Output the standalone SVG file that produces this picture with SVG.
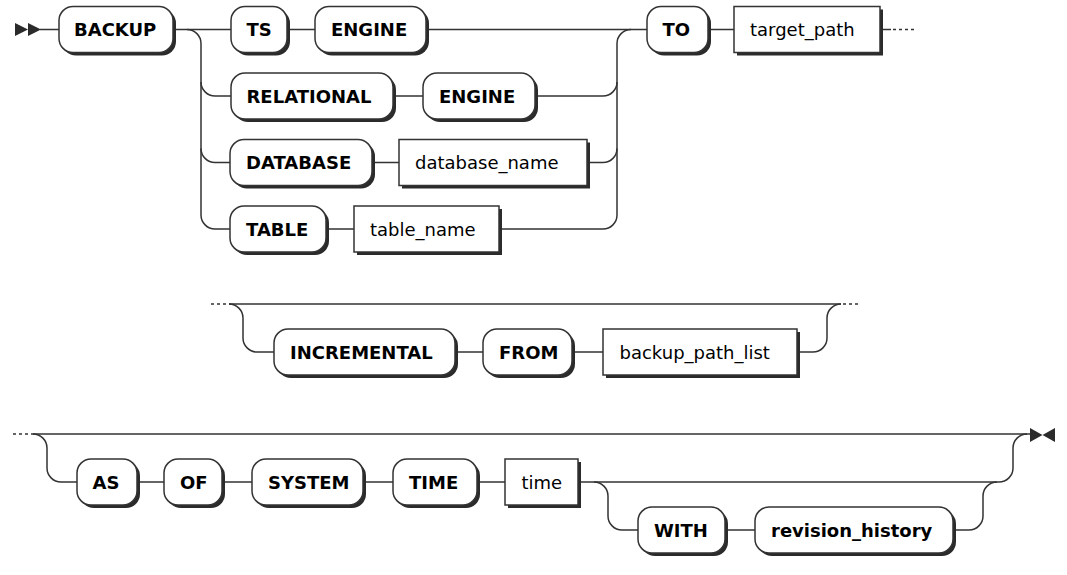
<svg xmlns="http://www.w3.org/2000/svg" width="1067" height="575" viewBox="0 0 1067 575">
<style>
.bg{fill:#ffffff}
.sh{fill:#2b2b2b}
.t{fill:#ffffff;stroke:#333333;stroke-width:1.5}
.n{fill:#ffffff;stroke:#333333;stroke-width:1.5}
.tt{font-family:"DejaVu Sans",Verdana,sans-serif;font-size:18px;font-weight:bold;fill:#000000}
.nt{font-family:"DejaVu Sans",Verdana,sans-serif;font-size:18px;font-weight:normal;fill:#000000}
.c{fill:none;stroke:#333333;stroke-width:1.5}
.d{fill:none;stroke:#333333;stroke-width:1.5;stroke-dasharray:3 3}
.m{fill:#2b2b2b}
</style>
<rect class="bg" x="0" y="0" width="1067" height="575"/>
<g id="connectors">
<polygon class="m" points="15,23 28,29.5 15,36"/>
<polygon class="m" points="28,23 41,29.5 28,36"/>
<path class="c" d="M40 29.5H59M173 29.5H231M287 29.5H315M426 29.5H647M708 29.5H734M880 29.5H891"/>
<path class="d" d="M893 29.5H914"/>
<path class="c" d="M187 29.5A14 14 0 0 1 201 43.5V215A14 14 0 0 0 215 229H230"/>
<path class="c" d="M201 82A14 14 0 0 0 215 96H231"/>
<path class="c" d="M201 148.5A14 14 0 0 0 215 162.5H230"/>
<path class="c" d="M393 96H423M535 96H603A14 14 0 0 0 617 82"/>
<path class="c" d="M372 162.5H399M587 162.5H603A14 14 0 0 0 617 148.5"/>
<path class="c" d="M326 229H354M499 229H603A14 14 0 0 0 617 215V43.5A14 14 0 0 1 631 29.5"/>
<path class="d" d="M211 304H228"/>
<path class="c" d="M229 304H841"/>
<path class="d" d="M843 304H861"/>
<path class="c" d="M229 304A14 14 0 0 1 243 318V338A14 14 0 0 0 257 352H274M455 352H483M572 352H603M797 352H813A14 14 0 0 0 827 338V318A14 14 0 0 1 841 304"/>
<path class="d" d="M13 434H30"/>
<path class="c" d="M31 434H1031"/>
<path class="c" d="M33 434A14 14 0 0 1 47 448V468A14 14 0 0 0 61 482H77M137 482H164M222 482H252M363 482H393M477 482H505M578 482H999A14 14 0 0 0 1013 468V448A14 14 0 0 1 1027 434"/>
<path class="c" d="M594 482A14 14 0 0 1 608 496V516A14 14 0 0 0 622 530H638M725 530H755M953 530H969A14 14 0 0 0 983 516V496A14 14 0 0 1 997 482"/>
<polygon class="m" points="1030,428 1042.5,435 1030,442"/>
<polygon class="m" points="1055,428 1042.5,435 1055,442"/>
</g>
<g id="n-backup"><rect class="sh" x="62" y="9.5" width="114" height="46" rx="14"/><rect class="t" x="59" y="6.5" width="114" height="46" rx="14"/><text class="tt" x="74" y="36">BACKUP</text></g>
<g id="n-ts"><rect class="sh" x="234" y="9.5" width="56" height="46" rx="14"/><rect class="t" x="231" y="6.5" width="56" height="46" rx="14"/><text class="tt" x="246.5" y="36">TS</text></g>
<g id="n-engine1"><rect class="sh" x="318" y="9.5" width="111" height="46" rx="14"/><rect class="t" x="315" y="6.5" width="111" height="46" rx="14"/><text class="tt" x="331" y="36">ENGINE</text></g>
<g id="n-to"><rect class="sh" x="650" y="9.5" width="61" height="46" rx="14"/><rect class="t" x="647" y="6.5" width="61" height="46" rx="14"/><text class="tt" x="662.5" y="36">TO</text></g>
<g id="n-target_path"><rect class="sh" x="737" y="9.5" width="146" height="46"/><rect class="n" x="734" y="6.5" width="146" height="46"/><text class="nt" x="750" y="36">target_path</text></g>
<g id="n-relational"><rect class="sh" x="234" y="76" width="162" height="46" rx="14"/><rect class="t" x="231" y="73" width="162" height="46" rx="14"/><text class="tt" x="246.5" y="102.5">RELATIONAL</text></g>
<g id="n-engine2"><rect class="sh" x="426" y="76" width="112" height="46" rx="14"/><rect class="t" x="423" y="73" width="112" height="46" rx="14"/><text class="tt" x="439" y="102.5">ENGINE</text></g>
<g id="n-database"><rect class="sh" x="233" y="142.5" width="142" height="46" rx="14"/><rect class="t" x="230" y="139.5" width="142" height="46" rx="14"/><text class="tt" x="246" y="169">DATABASE</text></g>
<g id="n-database_name"><rect class="sh" x="402" y="142.5" width="188" height="46"/><rect class="n" x="399" y="139.5" width="188" height="46"/><text class="nt" x="415" y="169">database_name</text></g>
<g id="n-table"><rect class="sh" x="233" y="209" width="96" height="46" rx="14"/><rect class="t" x="230" y="206" width="96" height="46" rx="14"/><text class="tt" x="246" y="235.5">TABLE</text></g>
<g id="n-table_name"><rect class="sh" x="357" y="209" width="145" height="46"/><rect class="n" x="354" y="206" width="145" height="46"/><text class="nt" x="370" y="235.5">table_name</text></g>
<g id="n-incremental"><rect class="sh" x="277" y="332" width="181" height="46" rx="14"/><rect class="t" x="274" y="329" width="181" height="46" rx="14"/><text class="tt" x="290" y="358.5">INCREMENTAL</text></g>
<g id="n-from"><rect class="sh" x="486" y="332" width="89" height="46" rx="14"/><rect class="t" x="483" y="329" width="89" height="46" rx="14"/><text class="tt" x="499" y="358.5">FROM</text></g>
<g id="n-backup_path_list"><rect class="sh" x="606" y="332" width="194" height="46"/><rect class="n" x="603" y="329" width="194" height="46"/><text class="nt" x="619.5" y="358.5">backup_path_list</text></g>
<g id="n-as"><rect class="sh" x="80" y="462" width="60" height="46" rx="14"/><rect class="t" x="77" y="459" width="60" height="46" rx="14"/><text class="tt" x="92.5" y="488.5">AS</text></g>
<g id="n-of"><rect class="sh" x="167" y="462" width="58" height="46" rx="14"/><rect class="t" x="164" y="459" width="58" height="46" rx="14"/><text class="tt" x="180" y="488.5">OF</text></g>
<g id="n-system"><rect class="sh" x="255" y="462" width="111" height="46" rx="14"/><rect class="t" x="252" y="459" width="111" height="46" rx="14"/><text class="tt" x="268" y="488.5">SYSTEM</text></g>
<g id="n-time-kw"><rect class="sh" x="396" y="462" width="84" height="46" rx="14"/><rect class="t" x="393" y="459" width="84" height="46" rx="14"/><text class="tt" x="409" y="488.5">TIME</text></g>
<g id="n-time"><rect class="sh" x="508" y="462" width="73" height="46"/><rect class="n" x="505" y="459" width="73" height="46"/><text class="nt" x="521.5" y="488.5">time</text></g>
<g id="n-with"><rect class="sh" x="641" y="510" width="87" height="46" rx="14"/><rect class="t" x="638" y="507" width="87" height="46" rx="14"/><text class="tt" x="654" y="536.5">WITH</text></g>
<g id="n-revision_history"><rect class="sh" x="758" y="510" width="198" height="46" rx="14"/><rect class="t" x="755" y="507" width="198" height="46" rx="14"/><text class="tt" x="771" y="536.5">revision_history</text></g>
</svg>
